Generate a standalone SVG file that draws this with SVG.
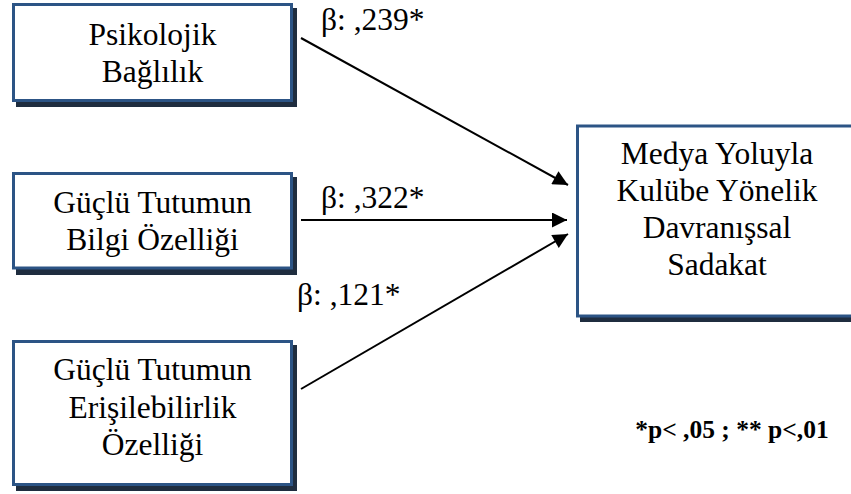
<svg xmlns="http://www.w3.org/2000/svg" width="851" height="494" viewBox="0 0 851 494">
  <style>
    .shadow { fill: #1f2d3f; }
    .box { fill: #ffffff; stroke: #2c5485; stroke-width: 3; }
    .label { font-family: "Liberation Serif", "Times New Roman", serif; font-size: 31.5px; fill: #000; text-anchor: middle; }
    .beta { font-family: "Liberation Serif", "Times New Roman", serif; font-size: 31.5px; fill: #000; }
    .note { font-family: "Liberation Serif", "Times New Roman", serif; font-size: 25.5px; font-weight: bold; fill: #000; text-anchor: middle; }
    .edge { stroke: #000; stroke-width: 2; fill: none; marker-end: url(#head); }
  </style>
  <defs>
    <marker id="head" viewBox="0 0 10 10" refX="10" refY="5" markerWidth="8.5" markerHeight="7.5" markerUnits="strokeWidth" orient="auto">
      <path d="M0,0 L10,5 L0,10 Z" fill="#000"/>
    </marker>
  </defs>

  <rect width="851" height="494" fill="#ffffff"/>

  <!-- Predictor: psychological commitment -->
  <g id="psikolojik">
    <rect class="shadow" x="16" y="8" width="281" height="99"/>
    <rect class="box" x="13.5" y="4.5" width="278" height="96"/>
    <text class="label" x="152.5" y="45">Psikolojik</text>
    <text class="label" x="152.5" y="82">Bağlılık</text>
  </g>

  <!-- Predictor: information property -->
  <g id="bilgi">
    <rect class="shadow" x="16" y="177" width="281" height="98"/>
    <rect class="box" x="13.5" y="173.5" width="278" height="94.5"/>
    <text class="label" x="152.5" y="213">Güçlü Tutumun</text>
    <text class="label" x="152.5" y="250">Bilgi Özelliği</text>
  </g>

  <!-- Predictor: accessibility property -->
  <g id="erisilebilirlik">
    <rect class="shadow" x="16" y="345" width="281" height="146"/>
    <rect class="box" x="13.5" y="341.5" width="278" height="143"/>
    <text class="label" x="152.5" y="380">Güçlü Tutumun</text>
    <text class="label" x="152.5" y="418">Erişilebilirlik</text>
    <text class="label" x="152.5" y="455">Özelliği</text>
  </g>

  <!-- Outcome: behavioural loyalty -->
  <g id="sadakat">
    <rect class="shadow" x="580" y="130" width="300" height="192"/>
    <rect class="box" x="577.5" y="126" width="300" height="190"/>
    <text class="label" x="717" y="164">Medya Yoluyla</text>
    <text class="label" x="717" y="201">Kulübe Yönelik</text>
    <text class="label" x="717" y="238">Davranışsal</text>
    <text class="label" x="717" y="275">Sadakat</text>
  </g>

  <!-- Paths with standardized coefficients -->
  <g id="connectors">
    <line class="edge" x1="301" y1="38" x2="568" y2="185"/>
    <line class="edge" x1="301" y1="220" x2="567" y2="220"/>
    <line class="edge" x1="301" y1="389" x2="568" y2="234"/>
    <text class="beta" x="321" y="30">β: ,239*</text>
    <text class="beta" x="321" y="208">β: ,322*</text>
    <text class="beta" x="297" y="305">β: ,121*</text>
  </g>

  <text class="note" x="732" y="438">*p&lt; ,05 ; ** p&lt;,01</text>
</svg>
